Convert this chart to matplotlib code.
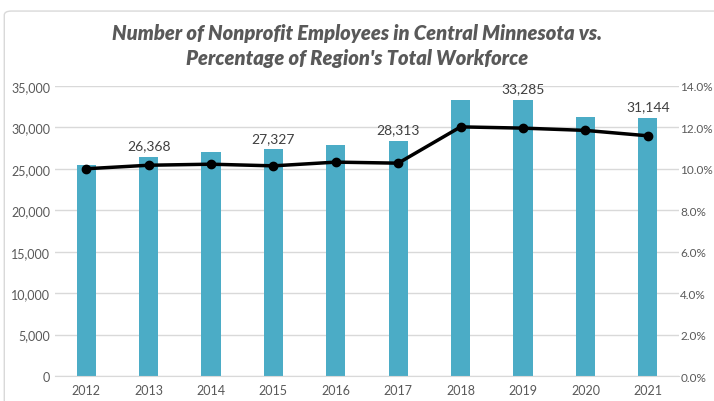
import matplotlib.pyplot as plt
import matplotlib.ticker as mticker
from matplotlib.patches import FancyBboxPatch
import numpy as np

years = ["2012", "2013", "2014", "2015", "2016", "2017", "2018", "2019", "2020", "2021"]
employees = [25400, 26368, 27000, 27327, 27900, 28313, 33300, 33285, 31200, 31144]
pct_workforce = [10.0, 10.17, 10.22, 10.14, 10.32, 10.27, 12.02, 11.96, 11.85, 11.59]
labelled = ["2013", "2015", "2017", "2019", "2021"]

text_col = "#595959"
bar_col = "#4BACC6"
plt.rcParams["font.family"] = ["Lato", "DejaVu Sans"]

fig = plt.figure(figsize=(7.14, 4.02), dpi=100)
fig.patches.append(FancyBboxPatch((0.006, -0.05), 1.2, 1.02, boxstyle="round,pad=0,rounding_size=0.01",
                                  transform=fig.transFigure, fill=False, ec="#d9d9d9", lw=1))

ax = fig.add_axes([0.077, 0.062, 0.874, 0.722])
x = np.arange(len(years))
ax.bar(x, employees, width=0.31, color=bar_col, zorder=2)
ax.set_ylim(0, 35000)
ax.set_xlim(-0.5, len(years) - 0.5)
ax.yaxis.set_major_locator(mticker.MultipleLocator(5000))
ax.yaxis.set_major_formatter(mticker.FuncFormatter(lambda v, p: f"{int(v):,}"))
ax.grid(axis="y", color="#d9d9d9", lw=1, zorder=0)
ax.set_xticks(x, years)
for s in ax.spines.values():
    s.set_visible(False)
ax.spines["bottom"].set_visible(True)
ax.spines["bottom"].set_color("#d9d9d9")
ax.tick_params(length=0, colors=text_col, labelsize=9)
ax.tick_params(axis="x", pad=6)

for i, (yr, v) in enumerate(zip(years, employees)):
    if yr in labelled:
        ax.text(i, v + 700, f"{v:,}", ha="center", va="bottom", color="#404040", fontsize=10)

ax2 = ax.twinx()
ax2.plot(x, pct_workforce, color="black", lw=2.5, marker="o", ms=6, zorder=3)
ax2.set_ylim(0, 14)
ax2.yaxis.set_major_locator(mticker.MultipleLocator(2))
ax2.yaxis.set_major_formatter(mticker.FuncFormatter(lambda v, p: f"{v:.1f}%"))
for s in ax2.spines.values():
    s.set_visible(False)
ax2.tick_params(length=0, colors=text_col, labelsize=8.5, pad=1)

fig.text(0.5, 0.886, "Number of Nonprofit Employees in Central Minnesota vs.\nPercentage of Region's Total Workforce",
         ha="center", va="center", color=text_col, fontsize=14.5, fontweight="heavy", style="italic",
         linespacing=1.35)

fig.savefig("out.png", dpi=100)
